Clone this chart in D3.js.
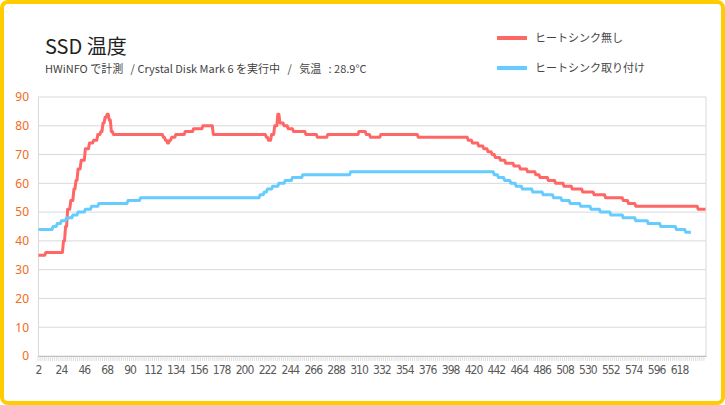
<!DOCTYPE html>
<html><head><meta charset="utf-8">
<script src="https://cdn.jsdelivr.net/npm/d3@7"></script>
<style>body{margin:0;background:#fff}svg{display:block;font-family:"Noto Sans CJK JP","Noto Sans",sans-serif}</style>
</head><body><div id="viz"></div>
<script>
// Step runs: [first sample, temperature]
const FIRST = 2, LAST = 643;
const noSinkRuns = [[2,35],[9,36],[26,40],[28,45],[30,51],[33,54],[36,58],[38,61],[40,65],[43,68],[47,72],[51,74],[55,75],[59,77],[62,78],[64,81],[66,83],[68,84],[70,82],[72,78],[74,77],[122,76],[124,75],[126,74],[128,75],[130,76],[134,77],[143,78],[151,79],[160,80],[170,77],[221,76],[223,75],[226,77],[229,80],[232,84],[234,81],[238,80],[242,79],[247,78],[259,77],[270,76],[280,77],[310,78],[317,77],[321,76],[331,77],[367,76],[415,75],[419,74],[425,73],[430,72],[434,71],[438,70],[441,69],[446,68],[451,67],[459,66],[465,65],[472,64],[480,63],[484,62],[492,61],[499,60],[507,59],[515,58],[525,57],[536,56],[547,55],[564,54],[569,53],[576,52],[636,51]];
const noSinkEnd = 643;
const sinkRuns = [[2,44],[16,45],[20,46],[24,47],[29,48],[35,49],[40,50],[47,51],[53,52],[60,53],[88,54],[100,55],[215,56],[219,57],[222,58],[227,59],[233,60],[239,61],[246,62],[256,63],[302,64],[440,63],[444,62],[450,61],[456,60],[461,59],[467,58],[477,57],[487,56],[497,55],[505,54],[513,53],[523,52],[533,51],[542,50],[552,49],[564,48],[576,47],[588,46],[600,45],[615,44],[624,43]];
const sinkEnd = 629;
const yTicks = [0,10,20,30,40,50,60,70,80,90];
const xLabels = [2,24,46,68,90,112,134,156,178,200,222,244,266,288,310,332,354,376,398,420,442,464,486,508,530,552,574,596,618];
const seriesNames = ["ヒートシンク無し","ヒートシンク取り付け"];
const colors = ["#FF6666","#66CCFF"];

function expand(runs, end) {
  const out = [];
  runs.forEach((r, i) => {
    const stop = i + 1 < runs.length ? runs[i + 1][0] : end + 1;
    for (let k = r[0]; k < stop; k++) out.push({ x: k, v: r[1] });
  });
  return out;
}
const cats = d3.range(FIRST, LAST + 1);
const series = [expand(noSinkRuns, noSinkEnd), expand(sinkRuns, sinkEnd)];

const W = 725, H = 405;
const svg = d3.select("#viz").append("svg").attr("width", W).attr("height", H);
svg.append("rect").attr("x", 2).attr("y", 2).attr("width", W - 4).attr("height", H - 4)
  .attr("rx", 6).attr("fill", "#fff").attr("stroke", "#FFCC00").attr("stroke-width", 4);

const L = 38, R = 706, T = 97, B = 356;
const x = d3.scaleBand().domain(cats).range([L, R]);
const y = d3.scaleLinear().domain([0, 90]).range([B, T]);

svg.append("g").selectAll("line").data(yTicks).join("line")
  .attr("x1", L).attr("x2", R).attr("y1", d => y(d)).attr("y2", d => y(d))
  .attr("stroke", "#d9d9d9");
svg.append("line").attr("x1", R).attr("x2", R).attr("y1", T).attr("y2", B).attr("stroke", "#d9d9d9");

const yAx = svg.append("g").attr("transform", `translate(${L},0)`)
  .call(d3.axisLeft(y).tickValues(yTicks).tickSize(0).tickPadding(9));
yAx.select(".domain").attr("stroke", "#d9d9d9");
yAx.selectAll("text").attr("fill", "#F26B21").attr("font-size", 12).attr("font-family", "Noto Sans");

const xAx = svg.append("g").attr("transform", `translate(0,${B})`)
  .call(d3.axisBottom(x).tickValues(xLabels).tickSize(0).tickPadding(9));
xAx.select(".domain").attr("stroke", "#bfbfbf");
xAx.selectAll("text").attr("fill", "#595959").attr("font-size", 12)
  .attr("font-family", "Liberation Sans Narrow, DejaVu Sans Condensed, sans-serif").attr("letter-spacing", -1);
svg.append("g").selectAll("line").data(cats.filter(d => d % 2 === 0)).join("line")
  .attr("x1", d => x(d)).attr("x2", d => x(d)).attr("y1", B).attr("y2", B + 5)
  .attr("stroke", "#c8c8c8").attr("stroke-width", 0.6);

const line = d3.line().x(d => x(d.x) + x.bandwidth() / 2).y(d => y(d.v));
series.forEach((s, i) => {
  svg.append("path").datum(s).attr("d", line).attr("fill", "none")
    .attr("stroke", colors[i]).attr("stroke-width", 3).attr("stroke-linejoin", "round");
});

svg.append("text").attr("x", 45).attr("y", 54).attr("font-size", 20).attr("fill", "#222").text("SSD 温度");
svg.append("text").attr("x", 45).attr("y", 73).attr("font-size", 11).attr("fill", "#444")
  .style("white-space", "pre")
  .text("HWiNFO で計測   / Crystal Disk Mark 6 を実行中   /   気温   : 28.9°C");

seriesNames.forEach((n, i) => {
  const ly = 38 + i * 30;
  svg.append("line").attr("x1", 497).attr("x2", 527).attr("y1", ly).attr("y2", ly)
    .attr("stroke", colors[i]).attr("stroke-width", 4);
  svg.append("text").attr("x", 535).attr("y", ly + 4).attr("font-size", 11).attr("fill", "#444").text(n);
});
</script></body></html>
